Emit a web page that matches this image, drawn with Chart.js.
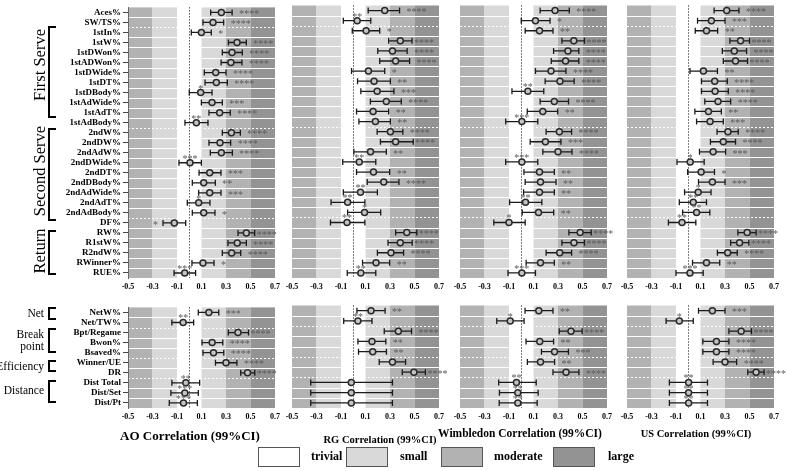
<!DOCTYPE html>
<html>
<head>
<meta charset="utf-8">
<script src="https://cdn.jsdelivr.net/npm/chart.js@4.4.0/dist/chart.umd.min.js"></script>
<style>
body { margin: 0; width: 787px; height: 471px; background: #fff; position: relative; overflow: hidden; font-family: "Liberation Serif", serif; }
canvas { position: absolute; }
.grp { position: absolute; white-space: nowrap; font-size: 16.5px; transform: translate(-50%, -50%) rotate(-90deg); }
.grp2 { position: absolute; white-space: nowrap; font-size: 11.5px; text-align: right; width: 60px; left: -16px; line-height: 12px; }
.br { position: absolute; border: 2px solid #000; border-right: none; width: 8px; left: 48px; box-sizing: border-box; }
.ttl { position: absolute; white-space: nowrap; font-weight: bold; transform: translate(-50%, -50%); }
.lg { position: absolute; top: 447px; width: 42px; height: 20px; border: 1px solid #555; box-sizing: border-box; }
.lgt { position: absolute; top: 449px; font-weight: bold; font-size: 12px; }
</style>
</head>
<body>
<canvas id="aoTop" width="287" height="300" style="left:0;top:0"></canvas>
<canvas id="rgTop" width="171" height="300" style="left:280px;top:0"></canvas>
<canvas id="wiTop" width="171" height="300" style="left:448px;top:0"></canvas>
<canvas id="usTop" width="171" height="300" style="left:615px;top:0"></canvas>
<canvas id="aoBot" width="287" height="130" style="left:0;top:300px"></canvas>
<canvas id="rgBot" width="171" height="130" style="left:280px;top:300px"></canvas>
<canvas id="wiBot" width="171" height="130" style="left:448px;top:300px"></canvas>
<canvas id="usBot" width="171" height="130" style="left:615px;top:300px"></canvas>

<div class="grp" style="left:40px;top:65px">First Serve</div>
<div class="grp" style="left:40px;top:171px">Second Serve</div>
<div class="grp" style="left:40px;top:251px">Return</div>
<div class="br" style="top:26px;height:92px"></div>
<div class="br" style="top:128px;height:93px"></div>
<div class="br" style="top:230px;height:45px"></div>

<div class="grp2" style="top:307px">Net</div>
<div class="grp2" style="top:328px">Break<br>point</div>
<div class="grp2" style="top:360px">Efficiency</div>
<div class="grp2" style="top:384px">Distance</div>
<div class="br" style="top:307px;height:13px"></div>
<div class="br" style="top:328px;height:25px"></div>
<div class="br" style="top:360px;height:12px"></div>
<div class="br" style="top:380px;height:23px"></div>

<div class="ttl" style="left:190px;top:436px;font-size:13px">AO Correlation (99%CI)</div>
<div class="ttl" style="left:380px;top:439px;font-size:10.5px">RG Correlation (99%CI)</div>
<div class="ttl" style="left:520px;top:433px;font-size:11.5px">Wimbledon Correlation (99%CI)</div>
<div class="ttl" style="left:696px;top:433px;font-size:10.5px">US Correlation (99%CI)</div>

<div class="lg" style="left:258px;background:#fff"></div>
<div class="lgt" style="left:311px">trivial</div>
<div class="lg" style="left:346px;background:#d9d9d9"></div>
<div class="lgt" style="left:400px">small</div>
<div class="lg" style="left:441px;background:#b2b2b2"></div>
<div class="lgt" style="left:494px">moderate</div>
<div class="lg" style="left:553px;background:#939393"></div>
<div class="lgt" style="left:608px">large</div>

<script>
// rows
const topRows = ['Aces%', 'SW/TS%', '1stIn%', '1stW%', '1stDWon%', '1stADWon%', '1stDWide%', '1stDT%',
  '1stDBody%', '1stAdWide%', '1stAdT%', '1stAdBody%', '2ndW%', '2ndDW%', '2ndAdW%', '2ndDWide%',
  '2ndDT%', '2ndDBody%', '2ndAdWide%', '2ndAdT%', '2ndAdBody%', 'DF%', 'RW%', 'R1stW%', 'R2ndW%',
  'RWinner%', 'RUE%'];
const botRows = ['NetW%', 'Net/TW%', 'Bpt/Regame', 'Bwon%', 'Bsaved%', 'Winner/UE', 'DR', 'Dist Total', 'Dist/Set', 'Dist/Pt'];
const xTicks = [-0.5, -0.3, -0.1, 0.1, 0.3, 0.5, 0.7];

// correlation r, 99% CI and stars (first 27 = top rows, last 10 = bottom rows)
// stars: "^" = drawn above the point, "<" = drawn left of the bar
const aoR  = [0.262, 0.194, 0.099, 0.39, 0.349, 0.34, 0.216, 0.221, 0.093, 0.186, 0.248, 0.058, 0.344, 0.251, 0.262, 0.006, 0.167, 0.118, 0.167, 0.077, 0.118, -0.122, 0.466, 0.392, 0.346, 0.112, -0.037,
              0.16, -0.05, 0.398, 0.187, 0.198, 0.30, 0.476, -0.028, -0.036, -0.047];
const aoLo = [0.175, 0.112, 0.017, 0.32, 0.27, 0.26, 0.123, 0.129, 0.0, 0.099, 0.161, -0.035, 0.27, 0.161, 0.172, -0.084, 0.08, 0.025, 0.077, -0.016, 0.025, -0.214, 0.398, 0.316, 0.27, 0.022, -0.124,
              0.074, -0.142, 0.319, 0.104, 0.112, 0.214, 0.42, -0.142, -0.15, -0.163];
const aoHi = [0.35, 0.281, 0.18, 0.466, 0.433, 0.43, 0.30, 0.311, 0.186, 0.27, 0.335, 0.153, 0.417, 0.338, 0.352, 0.099, 0.259, 0.213, 0.259, 0.169, 0.21, -0.029, 0.534, 0.466, 0.42, 0.202, 0.052,
              0.241, 0.036, 0.484, 0.274, 0.282, 0.389, 0.535, 0.085, 0.074, 0.066];
const aoStars = ['****', '****', '*', '****', '****', '****', '****', '****', '^*', '***', '****', '^**', '****', '****', '****', '^***', '***', '**', '***', '^*', '*', '<*', '****', '****', '****', '*', '^***',
              '***', '^**', '****', '****', '****', '****', '****', '^**', '^***', '^***'];

const rgR  = [0.257, 0.032, 0.105, 0.384, 0.32, 0.346, 0.124, 0.17, 0.195, 0.27, 0.162, 0.181, 0.303, 0.346, 0.141, 0.049, 0.165, 0.249, 0.059, -0.046, 0.092, -0.051, 0.437, 0.384, 0.308, 0.186, 0.062,
              0.145, 0.038, 0.368, 0.153, 0.159, 0.32, 0.495, -0.016, -0.016, -0.016];
const rgLo = [0.122, -0.081, -0.008, 0.289, 0.2, 0.216, -0.014, 0.035, 0.062, 0.14, 0.027, 0.046, 0.195, 0.222, 0.005, -0.086, 0.027, 0.114, -0.081, -0.181, -0.046, -0.186, 0.346, 0.284, 0.197, 0.076, -0.049,
              0.03, -0.078, 0.253, 0.038, 0.043, 0.212, 0.40, -0.347, -0.347, -0.347];
const rgHi = [0.378, 0.143, 0.216, 0.48, 0.44, 0.46, 0.257, 0.303, 0.332, 0.392, 0.289, 0.303, 0.405, 0.49, 0.27, 0.184, 0.297, 0.373, 0.197, 0.095, 0.224, 0.095, 0.519, 0.481, 0.411, 0.297, 0.184,
              0.26, 0.153, 0.476, 0.266, 0.271, 0.427, 0.589, 0.32, 0.32, 0.32];
const rgStars = ['****', '^**', '*', '****', '****', '****', '*', '**', '***', '****', '**', '**', '****', '****', '**', '^**', '**', '****', '^**', '^**', '^*', '^**', '****', '****', '****', '**', '^**',
              '**', '^**', '****', '**', '**', '', '****', '', '', ''];

const wiR  = [0.276, 0.116, 0.149, 0.429, 0.381, 0.362, 0.243, 0.316, 0.054, 0.27, 0.176, 0.005, 0.311, 0.197, 0.30, 0.005, 0.149, 0.157, 0.149, 0.035, 0.141, -0.1, 0.481, 0.43, 0.314, 0.157, 0.005,
              0.143, -0.09, 0.406, 0.151, 0.272, 0.157, 0.366, -0.039, -0.028, -0.028];
const wiLo = [0.154, 0.0, 0.032, 0.332, 0.264, 0.245, 0.116, 0.195, -0.076, 0.154, 0.049, -0.127, 0.203, 0.073, 0.176, -0.127, 0.022, 0.032, 0.019, -0.095, 0.008, -0.224, 0.389, 0.332, 0.203, 0.04, -0.108,
              0.031, -0.2, 0.31, 0.039, 0.165, 0.05, 0.259, -0.184, -0.178, -0.18];
const wiHi = [0.392, 0.235, 0.259, 0.516, 0.47, 0.47, 0.365, 0.432, 0.184, 0.386, 0.297, 0.135, 0.411, 0.324, 0.414, 0.135, 0.27, 0.284, 0.27, 0.168, 0.265, 0.032, 0.571, 0.516, 0.411, 0.27, 0.116,
              0.259, 0.023, 0.497, 0.264, 0.385, 0.272, 0.471, 0.122, 0.138, 0.13];
const wiStars = ['****', '*', '**', '****', '****', '****', '****', '****', '^**', '****', '**', '^***', '****', '***', '****', '^***', '**', '**', '**', '^**', '**', '^*', '****', '****', '****', '**', '^***',
              '**', '^*', '****', '**', '***', '**', '****', '^**', '^**', '^**'];

const usR  = [0.314, 0.189, 0.149, 0.427, 0.376, 0.386, 0.124, 0.216, 0.219, 0.243, 0.165, 0.178, 0.324, 0.286, 0.203, 0.016, 0.105, 0.197, 0.081, 0.041, 0.068, -0.051, 0.481, 0.419, 0.322, 0.149, 0.014,
              0.197, -0.073, 0.432, 0.23, 0.23, 0.30, 0.554, 0.003, 0.003, 0.003];
const usLo = [0.211, 0.076, 0.057, 0.34, 0.278, 0.286, 0.014, 0.108, 0.108, 0.135, 0.054, 0.068, 0.235, 0.181, 0.092, -0.092, -0.005, 0.084, -0.03, -0.073, -0.046, -0.162, 0.405, 0.346, 0.238, 0.035, -0.1,
              0.084, -0.181, 0.332, 0.119, 0.119, 0.203, 0.486, -0.154, -0.154, -0.154];
const usHi = [0.414, 0.30, 0.24, 0.50, 0.476, 0.484, 0.238, 0.319, 0.327, 0.346, 0.27, 0.286, 0.408, 0.386, 0.305, 0.13, 0.214, 0.30, 0.186, 0.149, 0.176, 0.062, 0.554, 0.495, 0.40, 0.257, 0.122,
              0.30, 0.041, 0.516, 0.332, 0.332, 0.395, 0.619, 0.157, 0.157, 0.157];
const usStars = ['****', '***', '**', '****', '****', '****', '**', '****', '****', '****', '**', '***', '****', '****', '***', '^*', '*', '***', '^*', '^**', '^**', '^**', '****', '****', '****', '**', '^***',
              '***', '^*', '****', '****', '****', '****', '****', '^**', '^**', '^**'];

const zoneEdges = [-0.5, -0.3, -0.1, 0.1, 0.3, 0.5, 0.7];
const zoneColors = ['#b2b2b2', '#d9d9d9', '#ffffff', '#d9d9d9', '#b2b2b2', '#939393'];
const SERIF = '"Liberation Serif", "Times New Roman", serif';

// shaded effect-size zones, row separators, zero line
const zonesPlugin = {
  id: 'zones',
  beforeDraw(chart, args, opts) {
    const { ctx, chartArea: a, scales: { x, y } } = chart;
    ctx.save();
    for (let i = 0; i < zoneColors.length; i++) {
      const x0 = x.getPixelForValue(zoneEdges[i]);
      const x1 = x.getPixelForValue(zoneEdges[i + 1]);
      ctx.fillStyle = zoneColors[i];
      ctx.fillRect(x0, a.top, x1 - x0, a.bottom - a.top);
    }
    ctx.strokeStyle = '#fff';
    ctx.lineWidth = 1;
    const n = chart.data.labels.length;
    for (let i = 0; i < n - 1; i++) {
      const yy = Math.round((y.getPixelForValue(i) + y.getPixelForValue(i + 1)) / 2) + 0.5;
      ctx.setLineDash(opts.dashed.includes(i) ? [2, 2] : []);
      ctx.beginPath();
      ctx.moveTo(a.left, yy);
      ctx.lineTo(a.right, yy);
      ctx.stroke();
    }
    const xz = Math.round(x.getPixelForValue(0)) + 0.5;
    ctx.strokeStyle = '#000';
    ctx.setLineDash([1, 2]);
    ctx.beginPath();
    ctx.moveTo(xz, a.top);
    ctx.lineTo(xz, a.bottom);
    ctx.stroke();
    ctx.restore();
  }
};

// 99% CI bars and significance stars
const ciPlugin = {
  id: 'ci',
  beforeDatasetsDraw(chart, args, opts) {
    const { ctx, scales: { x, y } } = chart;
    ctx.save();
    ctx.strokeStyle = '#1a1a1a';
    ctx.lineWidth = 1.3;
    opts.lo.forEach((lo, i) => {
      const yy = y.getPixelForValue(i);
      const a = x.getPixelForValue(lo), b = x.getPixelForValue(opts.hi[i]);
      ctx.beginPath();
      ctx.moveTo(a, yy); ctx.lineTo(b, yy);
      ctx.moveTo(a, yy - 3); ctx.lineTo(a, yy + 3);
      ctx.moveTo(b, yy - 3); ctx.lineTo(b, yy + 3);
      ctx.stroke();
    });
    ctx.restore();
  },
  afterDatasetsDraw(chart, args, opts) {
    const { ctx, chartArea: area, scales: { x, y } } = chart;
    ctx.save();
    ctx.font = '10px ' + SERIF;
    ctx.fillStyle = '#5a5a5a';
    ctx.textBaseline = 'alphabetic';
    opts.stars.forEach((s, i) => {
      if (!s) return;
      const yy = y.getPixelForValue(i);
      if (s[0] === '^') {
        ctx.textAlign = 'center';
        ctx.fillText(s.slice(1), x.getPixelForValue(opts.r[i]), yy - 1);
      } else if (s[0] === '<') {
        ctx.textAlign = 'right';
        ctx.fillText(s.slice(1), x.getPixelForValue(opts.lo[i]) - 5, yy + 4.7);
      } else {
        ctx.textAlign = 'left';
        const hx = x.getPixelForValue(opts.hi[i]);
        const w = ctx.measureText(s).width;
        const gap = hx + 7 + w > area.right ? 2 : 7;
        ctx.fillText(s, hx + gap, yy + 4.7);
      }
    });
    ctx.restore();
  }
};

function makeChart(id, labels, r, lo, hi, stars, dashed, withLabels, padTop) {
  const yScale = {
    type: 'category',
    offset: true,
    display: withLabels,
    grid: { display: true, drawOnChartArea: false, drawTicks: true, tickLength: 5, color: '#444' },
    border: { display: true, color: '#666' },
    ticks: { autoSkip: false, padding: 2, color: '#000', font: { family: SERIF, weight: 'bold', size: 9 } }
  };
  if (withLabels) yScale.afterFit = s => { s.width = 128; };
  new Chart(document.getElementById(id), {
    type: 'line',
    data: {
      labels: labels,
      datasets: [{
        data: r,
        showLine: false,
        pointStyle: 'circle',
        pointRadius: 3,
        pointBorderWidth: 1.5,
        pointBorderColor: '#2a2a2a',
        pointBackgroundColor: '#c4c4c4'
      }]
    },
    options: {
      indexAxis: 'y',
      responsive: false,
      animation: false,
      devicePixelRatio: 1,
      events: [],
      layout: { padding: { left: withLabels ? 0 : 12, right: 12, top: padTop, bottom: 0 } },
      scales: {
        x: {
          type: 'linear',
          min: -0.5,
          max: 0.7,
          grid: { display: false, drawTicks: false },
          border: { display: false },
          afterBuildTicks: s => { s.ticks = xTicks.map(v => ({ value: v })); },
          afterFit: s => { s.height = 22; },
          ticks: {
            autoSkip: false, maxRotation: 0, padding: 4, color: '#000',
            font: { family: SERIF, weight: 'bold', size: 8 },
            callback: v => v.toFixed(1)
          }
        },
        y: yScale
      },
      plugins: {
        legend: { display: false },
        tooltip: { enabled: false },
        zones: { dashed: dashed },
        ci: { r: r, lo: lo, hi: hi, stars: stars }
      }
    },
    plugins: [zonesPlugin, ciPlugin]
  });
}

const topDashed = [1, 11, 20];
const botDashed = [1, 4, 6];
const nTop = topRows.length;

const panels = [
  ['ao', aoR, aoLo, aoHi, aoStars],
  ['rg', rgR, rgLo, rgHi, rgStars],
  ['wi', wiR, wiLo, wiHi, wiStars],
  ['us', usR, usLo, usHi, usStars]
];

panels.forEach(([key, r, lo, hi, st], p) => {
  makeChart(key + 'Top', topRows, r.slice(0, nTop), lo.slice(0, nTop), hi.slice(0, nTop), st.slice(0, nTop), topDashed, p === 0, 1);
  makeChart(key + 'Bot', botRows, r.slice(nTop), lo.slice(nTop), hi.slice(nTop), st.slice(nTop), botDashed, p === 0, 5);
});
</script>
</body>
</html>
